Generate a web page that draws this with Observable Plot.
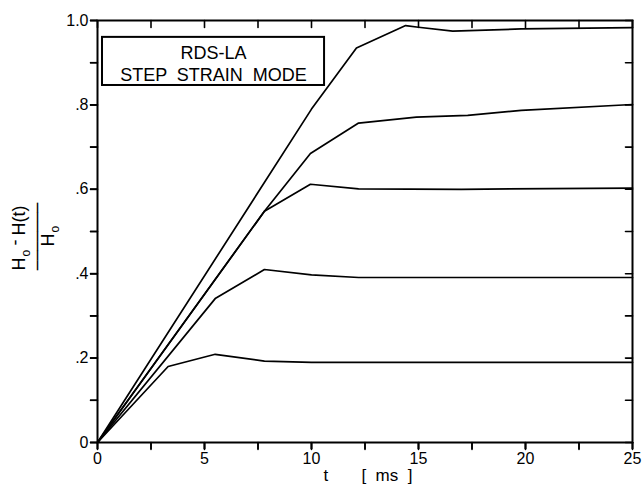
<!DOCTYPE html>
<html>
<head>
<meta charset="utf-8">
<script src="https://cdn.jsdelivr.net/npm/d3@7"></script>
<script src="https://cdn.jsdelivr.net/npm/@observablehq/plot@0.6"></script>
<style>
  html, body { margin: 0; padding: 0; background: #fff; }
</style>
</head>
<body>
<div id="chart"></div>
<script>
// ---- data ----
const t1 = [0, 10, 12.1, 14.4, 15, 16.6, 19.8, 25];
const v1 = [0, 0.79, 0.935, 0.988, 0.984, 0.975, 0.980, 0.983];
const t2 = [0, 7.8, 9.95, 12.2, 14.9, 17.3, 19.8, 25];
const v2 = [0, 0.548, 0.685, 0.757, 0.771, 0.775, 0.787, 0.801];
const t3 = [0, 7.8, 9.95, 12.2, 17, 25];
const v3 = [0, 0.548, 0.612, 0.601, 0.600, 0.603];
const t4 = [0, 5.5, 7.8, 10, 12.2, 25];
const v4 = [0, 0.341, 0.410, 0.397, 0.391, 0.391];
const t5 = [0, 3.3, 5.5, 7.8, 10, 25];
const v5 = [0, 0.180, 0.209, 0.193, 0.190, 0.190];

const xMinor = [0, 2.5, 5, 7.5, 10, 12.5, 15, 17.5, 20, 22.5, 25];
const xMajor = [0, 5, 10, 15, 20, 25];
const xMajorText = ["0", "5", "10", "15", "20", "25"];
const yMinor = [0, 0.1, 0.2, 0.3, 0.4, 0.5, 0.6, 0.7, 0.8, 0.9, 1.0];
const yMajor = [0, 0.2, 0.4, 0.6, 0.8, 1.0];
const yMajorText = ["0", ".2", ".4", ".6", ".8", "1.0"];

const legendLines = ["RDS-LA", "STEP  STRAIN  MODE"];
const xLabel = "t       [  ms  ]";

const series = [[t1, v1], [t2, v2], [t3, v3], [t4, v4], [t5, v5]];
const rows = series.flatMap(([ts, vs], i) => ts.map((t, j) => ({t, v: vs[j], s: i})));

const W = 642, H = 490;
const mL = 97, mR = 10, mT = 20, mB = 48;
const tick = 7;
const innerW = W - mL - mR, innerH = H - mT - mB;
const FONT = "'Liberation Sans', Arial, sans-serif";

// tick segments on all four sides, built from the tick arrays (length = tick px via scale ratio)
const kx = 25 / innerW, ky = 1 / innerH;
const tickSegs = [
  ...xMinor.flatMap((x, i) => [{x, y: 0, k: "b" + i}, {x, y: -tick * ky, k: "b" + i}]),
  ...xMinor.flatMap((x, i) => [{x, y: 1, k: "t" + i}, {x, y: 1 - tick * ky, k: "t" + i}]),
  ...yMinor.flatMap((y, i) => [{x: 0, y, k: "l" + i}, {x: -tick * kx, y, k: "l" + i}]),
  ...yMinor.flatMap((y, i) => [{x: 25, y, k: "r" + i}, {x: 25 - tick * kx, y, k: "r" + i}])
];

// y-axis label pieces (fraction), offsets relative to the left-middle of the frame
const yLab = (txt, dx, dy, size, anchor = "start", family = FONT) =>
  Plot.text([txt], {frameAnchor: "left", text: d => d, rotate: -90, dx, dy, fontSize: size,
                    textAnchor: anchor, lineAnchor: "middle", fill: "#000", fontFamily: family});

const plot = Plot.plot({
  width: W, height: H,
  marginLeft: mL, marginRight: mR, marginTop: mT, marginBottom: mB,
  style: {fontFamily: FONT, fontSize: "16px", color: "#000", background: "#fff"},
  x: {domain: [0, 25]},
  y: {domain: [0, 1]},
  marks: [
    // legend box (annotation)
    Plot.rect([{x1: 0.234, x2: 10.61, y1: 0.846, y2: 0.96}], {x1: "x1", x2: "x2", y1: "y1", y2: "y2", stroke: "#000", strokeWidth: 2, fill: "none"}),
    Plot.text([legendLines[0]], {x: 5.42, y: 0.923, text: d => d, fontSize: 18, fill: "#000"}),
    Plot.text([legendLines[1]], {x: 5.42, y: 0.870, text: d => d, fontSize: 18, fill: "#000"}),
    // curves
    Plot.line(rows, {x: "t", y: "v", z: "s", stroke: "#000", strokeWidth: 1.7, strokeLinejoin: "round"}),
    // frame
    Plot.frame({stroke: "#000", strokeWidth: 2}),
    // bottom axis
    Plot.axisX(xMinor, {tickSize: tick, tickFormat: () => "", label: null, stroke: "#000", strokeWidth: 1.6}),
    Plot.axisX(xMajor, {tickSize: tick, tickPadding: 3, tickFormat: (d, i) => xMajorText[i], label: null, stroke: "#000", strokeWidth: 1.6, fontSize: 16}),
    // left axis
    Plot.axisY(yMinor, {tickSize: tick, tickFormat: () => "", label: null, stroke: "#000", strokeWidth: 1.6}),
    Plot.axisY(yMajor, {tickSize: tick, tickPadding: 2, tickFormat: (d, i) => yMajorText[i], label: null, stroke: "#000", strokeWidth: 1.6, fontSize: 16}),
    // tick segments on every side (bottom/left outward, top/right inward)
    Plot.line(tickSegs, {x: "x", y: "y", z: "k", stroke: "#000", strokeWidth: 1.6}),
    // x-axis label
    Plot.text([xLabel], {frameAnchor: "bottom", dy: 38, dx: 3, text: d => d, fontSize: 17, fill: "#000"}),
    // y-axis label: (H_o - H(t)) / H_o
    yLab("H", -78, 39, 18),
    yLab("o", -71, 25, 12),
    yLab("-", -82, 14, 18),
    yLab("H(t)", -78, 4, 18),
    yLab("\u2500\u2500\u2500\u2500\u2500\u2500\u2500", -60, 5, 16, "middle", "'DejaVu Sans'"),
    yLab("H", -49, 15, 18),
    yLab("o", -42, 1, 12)
  ]
});

document.getElementById("chart").appendChild(plot);
</script>
</body>
</html>
